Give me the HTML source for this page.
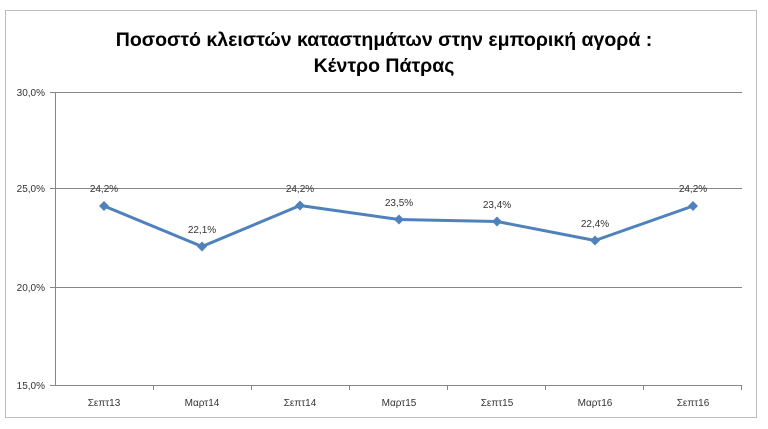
<!DOCTYPE html>
<html><head><meta charset="utf-8"><style>
body{margin:0;background:#fff;}
svg{display:block;font-family:"Liberation Sans","DejaVu Sans",sans-serif;}
</style></head><body>
<svg width="768" height="429" viewBox="0 0 768 429">
<rect x="5.5" y="10.5" width="751" height="407" fill="#fff" stroke="#bcbcbc"/>
<text x="384" y="46" text-anchor="middle" font-size="19.5" font-weight="bold" fill="#000">Ποσοστό κλειστών καταστημάτων στην εμπορική αγορά :</text>
<text x="384" y="72" text-anchor="middle" font-size="19.5" font-weight="bold" fill="#000">Κέντρο Πάτρας</text>
<g stroke="#868686" stroke-width="1">
<line x1="50" y1="92.5" x2="742" y2="92.5"/>
<line x1="50" y1="188.5" x2="742" y2="188.5"/>
<line x1="50" y1="287.5" x2="742" y2="287.5"/>
<line x1="50" y1="385.5" x2="742" y2="385.5"/>
<line x1="55.5" y1="92" x2="55.5" y2="386"/>
<line x1="153.5" y1="385" x2="153.5" y2="390"/>
<line x1="251.5" y1="385" x2="251.5" y2="390"/>
<line x1="349.5" y1="385" x2="349.5" y2="390"/>
<line x1="447.5" y1="385" x2="447.5" y2="390"/>
<line x1="545.5" y1="385" x2="545.5" y2="390"/>
<line x1="643.5" y1="385" x2="643.5" y2="390"/>
<line x1="741.5" y1="385" x2="741.5" y2="390"/>
</g>
<g font-size="10" fill="#333" text-anchor="end">
<text x="45" y="96">30,0%</text>
<text x="45" y="192">25,0%</text>
<text x="45" y="291">20,0%</text>
<text x="45" y="389">15,0%</text>
</g>
<g font-size="10" fill="#333" text-anchor="middle">
<text x="104" y="406">Σεπτ13</text>
<text x="202" y="406">Μαρτ14</text>
<text x="300" y="406">Σεπτ14</text>
<text x="399" y="406">Μαρτ15</text>
<text x="497" y="406">Σεπτ15</text>
<text x="595" y="406">Μαρτ16</text>
<text x="693" y="406">Σεπτ16</text>
</g>
<polyline points="104,206 202,246.5 300,205.5 399,219.5 497,221.5 595,240.5 693,206" fill="none" stroke="#4f81bd" stroke-width="3" stroke-linejoin="round"/>
<g fill="#4f81bd">
<path d="M104,201 l5,5 -5,5 -5,-5z"/>
<path d="M202,241.5 l5,5 -5,5 -5,-5z"/>
<path d="M300,200.5 l5,5 -5,5 -5,-5z"/>
<path d="M399,214.5 l5,5 -5,5 -5,-5z"/>
<path d="M497,216.5 l5,5 -5,5 -5,-5z"/>
<path d="M595,235.5 l5,5 -5,5 -5,-5z"/>
<path d="M693,201 l5,5 -5,5 -5,-5z"/>
</g>
<g font-size="10" fill="#333" text-anchor="middle">
<text x="104" y="192">24,2%</text>
<text x="202" y="233">22,1%</text>
<text x="300" y="192">24,2%</text>
<text x="399" y="206">23,5%</text>
<text x="497" y="208">23,4%</text>
<text x="595" y="227">22,4%</text>
<text x="693" y="192">24,2%</text>
</g>
</svg>
</body></html>
